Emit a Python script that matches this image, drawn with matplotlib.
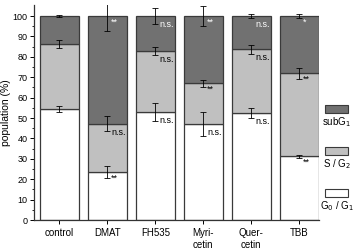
import numpy as np
import matplotlib
matplotlib.use("Agg")
import matplotlib.pyplot as plt
from matplotlib.patches import Rectangle

categories = ["control", "DMAT", "FH535", "Myri-\ncetin", "Quer-\ncetin", "TBB"]

# segment sizes (%), stacked bottom to top
g0g1 = [54.5, 23.5, 52.8, 47.0, 52.6, 31.3]
sg2 = [31.7, 23.8, 30.0, 20.0, 31.2, 40.7]
subg1 = [13.8, 52.7, 17.2, 33.0, 16.2, 28.0]

g0g1_err = [1.5, 3.0, 4.5, 6.0, 2.4, 0.8]
sg2_err = [2.0, 3.7, 2.0, 1.8, 2.2, 2.7]
subg1_err = [0.5, 7.5, 3.7, 4.8, 1.2, 1.0]

g0g1_sig = ["", "**", "n.s.", "n.s.", "n.s.", "**"]
sg2_sig = ["", "n.s.", "n.s.", "**", "n.s.", "**"]
subg1_sig = ["", "**", "n.s.", "**", "n.s.", "*"]

DARK = "#717171"
LIGHT = "#c0c0c0"
EDGE = "#3a3a3a"

plt.rcParams["font.family"] = ["Liberation Sans", "DejaVu Sans"]

fig = plt.figure(figsize=(3.58, 2.52), dpi=100)
ax = fig.add_axes([34 / 358, 32 / 252, 285 / 358, 215 / 252])

x = np.arange(len(categories))
w = 0.81
g0 = np.array(g0g1)
s2 = np.array(sg2)
sb = np.array(subg1)

ax.bar(x, g0, w, color="white", edgecolor=EDGE, lw=0.9)
ax.bar(x, s2, w, bottom=g0, color=LIGHT, edgecolor=EDGE, lw=0.9)
ax.bar(x, sb, w, bottom=g0 + s2, color=DARK, edgecolor=EDGE, lw=0.9)

tops = [g0, g0 + s2, g0 + s2 + sb]
errs = [g0g1_err, sg2_err, subg1_err]
sigs = [g0g1_sig, sg2_sig, subg1_sig]
for k in range(3):
    ax.errorbar(x, tops[k], yerr=errs[k], fmt="none", ecolor="black",
                elinewidth=0.6, capsize=2, capthick=0.6, clip_on=True, zorder=4)
    for i, lab in enumerate(sigs[k]):
        if not lab:
            continue
        col = "white" if k == 2 else "black"
        yy = tops[k][i] - 4.2 if lab != "**" and lab != "*" else tops[k][i] - 3.0
        ax.text(x[i] + 0.08, yy, lab, fontsize=6.5, color=col,
                ha="left", va="center", zorder=5)

ax.set_xlim(-0.53, 5.41)
ax.set_ylim(0, 105.4)
ax.set_yticks(np.arange(0, 101, 10))
ax.set_yticks(np.arange(5, 101, 10), minor=True)
ax.set_xticks(x)
ax.set_xticklabels(categories, fontsize=7, linespacing=1.25)
ax.tick_params(axis="y", labelsize=6.5, length=3, width=0.7, pad=1.5)
ax.tick_params(axis="y", which="minor", length=1.8, width=0.6)
ax.tick_params(axis="x", length=3, width=0.7, pad=3)
ax.set_ylabel("population (%)", fontsize=7.5, labelpad=1)
for sp in ["top", "right"]:
    ax.spines[sp].set_visible(False)
for sp in ["left", "bottom"]:
    ax.spines[sp].set_linewidth(0.9)
    ax.spines[sp].set_color("#333333")

# custom legend: patch with label underneath
legend_items = [(DARK, "subG$_1$", 105), (LIGHT, "S / G$_2$", 147), ("white", "G$_0$ / G$_1$", 189)]
for col, lab, ytop in legend_items:
    fig.add_artist(Rectangle((325 / 358, 1 - (ytop + 8) / 252), 23 / 358, 8 / 252,
                             transform=fig.transFigure, facecolor=col,
                             edgecolor=EDGE, lw=0.8))
    fig.text(337 / 358, 1 - (ytop + 17) / 252, lab, fontsize=7,
             ha="center", va="center")

fig.savefig("out.png", dpi=100)
